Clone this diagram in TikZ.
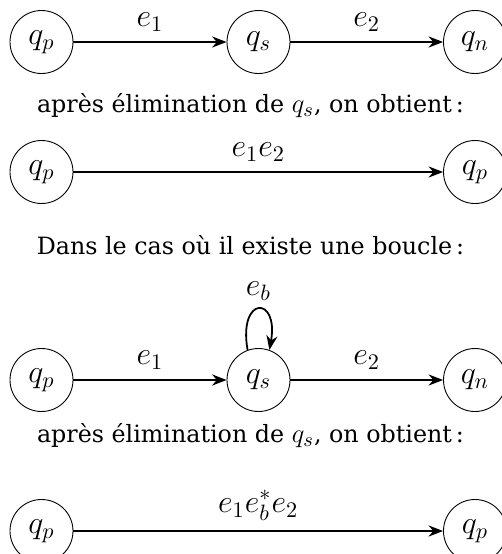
\documentclass[tikz,border=0pt]{standalone}
\usepackage{fontspec}
\setmainfont{DejaVu Serif}
\usetikzlibrary{arrows.meta}
\newcommand{\mq}[1]{{\fontsize{12.5}{14}\selectfont$#1$}}
\begin{document}
\begin{tikzpicture}[x=0.45pt,y=-0.45pt,
  state/.style={circle,draw,minimum size=28.35pt,inner sep=0pt,font=\fontsize{14}{16}\selectfont},
  edge/.style={thick,-{Stealth[length=6.5pt,width=5pt]}},
  lbl/.style={font=\fontsize{14}{16}\selectfont},
  txt/.style={font=\fontsize{10.7}{12}\selectfont}]
\useasboundingbox (0,0) rectangle (501,554);
% row 1
\node[state] (p1) at (41.5,42) {$q_p$};
\node[state] (s1) at (258.5,42) {$q_s$};
\node[state] (n1) at (475,42) {$q_n$};
\draw[edge] (p1) -- node[lbl,above=1pt] {$e_1$} (s1);
\draw[edge] (s1) -- node[lbl,above=1pt] {$e_2$} (n1);
\node[txt] (t1) at (250.5,106) {après élimination de \mq{q_s}, on obtient\,:};
% row 2
\node[state] (p2) at (41.5,172) {$q_p$};
\node[state] (n2) at (475,172) {$q_p$};
\draw[edge] (p2) -- node[lbl,above=1pt] {$e_1e_2$} (n2);
\node[txt] (t2) at (250.5,245) {Dans le cas où il existe une boucle\,:};
% row 3
\node[state] (p3) at (41.5,380) {$q_p$};
\node[state] (s3) at (258.5,380) {$q_s$};
\node[state] (n3) at (475,380) {$q_n$};
\draw[edge] (p3) -- node[lbl,above=1pt] {$e_1$} (s3);
\draw[edge] (s3) -- node[lbl,above=1pt] {$e_2$} (n3);
\draw[edge] (s3.110) to[out=100,in=80,looseness=6.5] node[lbl,above=0pt] (eb) {$e_b$} (s3.70);
\node[txt] (t3) at (250.5,436) {après élimination de \mq{q_s}, on obtient\,:};
% row 4
\node[state] (p4) at (41.5,531) {$q_p$};
\node[state] (n4) at (475,531) {$q_p$};
\draw[edge] (p4) -- node[lbl,above=1pt] {$e_1e_b^*e_2$} (n4);
\end{tikzpicture}
\end{document}
